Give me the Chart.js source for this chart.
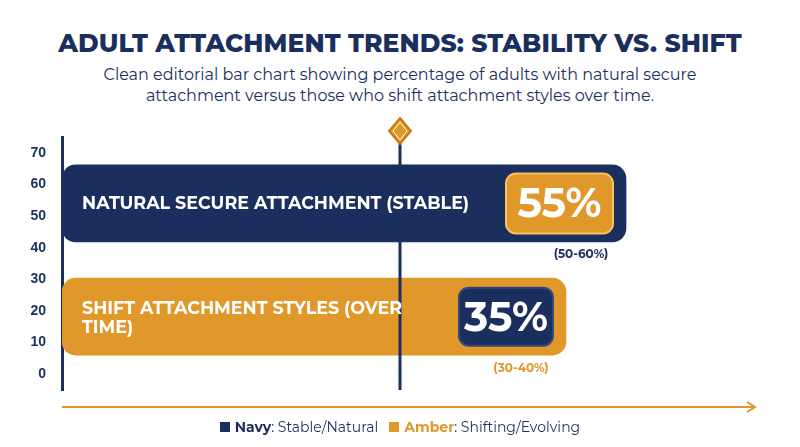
<!DOCTYPE html><html><head><meta charset="utf-8">
<script src="https://cdn.jsdelivr.net/npm/chart.js@4"></script>
<style>
body{margin:0;width:800px;height:447px;background:#fff;font-family:Montserrat,"Open Sans",sans-serif;position:relative;overflow:hidden}
#t{position:absolute;top:28px;width:100%;text-align:center;font-size:25px;font-weight:800;color:#1b2f5e;letter-spacing:0.1px}
#s{position:absolute;top:64px;width:100%;text-align:center;font-size:16px;color:#1b2f5e;line-height:21px}
#lg{position:absolute;top:418px;width:100%;text-align:center;font-size:14px;color:#1b2f5e}
.sw{display:inline-block;width:10px;height:10px;margin-right:5px;vertical-align:0}
canvas{position:absolute;left:0;top:0}
</style></head><body>
<div id="t">ADULT ATTACHMENT TRENDS: STABILITY VS. SHIFT</div>
<div id="s">Clean editorial bar chart showing percentage of adults with natural secure<br>attachment versus those who shift attachment styles over time.</div>
<div style="position:absolute;left:0;top:0;width:800px;height:447px"><canvas id="c"></canvas></div>
<div id="lg"><span class="sw" style="background:#1b2f5e"></span><b>Navy</b>: Stable/Natural &nbsp;&nbsp;<span class="sw" style="background:#e0982a"></span><b style="color:#e0982a">Amber</b>: Shifting/Evolving</div>
<script>
const categories=["NATURAL SECURE ATTACHMENT (STABLE)","SHIFT ATTACHMENT STYLES (OVER TIME)"];
const values=[55,35];
const ranges=["(50-60%)","(30-40%)"];
const yPositions=[54,18.2];
const yTicks=[0,10,20,30,40,50,60,70];
const NAVY="#1b2f5e",AMBER="#e0982a";
const deco={id:"deco",afterDatasetsDraw(ch){
 const c=ch.ctx,a=ch.chartArea,m=ch.getDatasetMeta(0);
 c.save();
 const cx=400;
 c.strokeStyle=NAVY;c.lineWidth=3;c.beginPath();c.moveTo(cx,a.top);c.lineTo(cx,a.bottom);c.stroke();
 c.fillStyle=AMBER;c.strokeStyle="#c77a10";c.lineWidth=2;
 c.beginPath();c.moveTo(cx,118);c.lineTo(cx+11,131);c.lineTo(cx,144);c.lineTo(cx-11,131);c.closePath();c.fill();c.stroke();
 c.strokeStyle="#fff";c.lineWidth=1;c.beginPath();c.moveTo(cx,122);c.lineTo(cx+7,131);c.lineTo(cx,140);c.lineTo(cx-7,131);c.closePath();c.stroke();
 const ay=a.bottom+17;
 c.strokeStyle=AMBER;c.lineWidth=2;c.beginPath();c.moveTo(a.left,ay);c.lineTo(a.right,ay);c.stroke();
 c.beginPath();c.moveTo(a.right-8,ay-5);c.lineTo(a.right,ay);c.lineTo(a.right-8,ay+5);c.stroke();
 m.data.forEach((b,i)=>{
  const bot=b.y+b.height/2;
  c.fillStyle="#fff";c.font="bold 17.5px Montserrat,'Open Sans',sans-serif";c.textBaseline="middle";c.textAlign="left";
  if(i==0){c.fillText(categories[0],82,b.y);}
  else{c.fillText("SHIFT ATTACHMENT STYLES (OVER",82,b.y-8);c.fillText("TIME)",82,b.y+11);}
  const bw=i==0?107:94,bh=i==0?60:58,bx=b.x-13-bw,by=b.y-bh/2;
  c.fillStyle=i==0?AMBER:NAVY;c.strokeStyle=i==0?"#f7c060":"#33477a";c.lineWidth=2;
  c.beginPath();c.roundRect(bx,by,bw,bh,10);c.fill();c.stroke();
  c.fillStyle="#fff";c.font="bold 41px Montserrat,'Open Sans',sans-serif";c.textAlign="center";
  c.fillText(values[i]+"%",bx+bw/2,b.y+2);
  c.fillStyle=i==0?NAVY:AMBER;c.font="bold 12px Montserrat,'Open Sans',sans-serif";
  c.fillText(ranges[i],b.x-45,bot+13);
 });
 c.restore();}};
new Chart(document.getElementById("c"),{type:"bar",
 data:{datasets:[{data:values.map((v,i)=>({x:v,y:yPositions[i]})),base:-133,backgroundColor:[NAVY,AMBER],borderRadius:14,borderSkipped:false,barThickness:77}]},
 options:{indexAxis:"y",responsive:true,maintainAspectRatio:false,animation:false,
  layout:{padding:{left:22,top:137,right:45,bottom:57}},
  plugins:{legend:{display:false},tooltip:{enabled:false}},
  scales:{
   x:{type:"linear",min:-133,max:98,display:false},
   y:{type:"linear",min:0,max:70,afterFit:s=>{s.width=40},
    afterBuildTicks:s=>{s.ticks=yTicks.map(v=>({value:v}))},
    grid:{display:false},border:{color:NAVY,width:3},
    ticks:{color:NAVY,font:{size:14,weight:"bold"},padding:8}}}},
 plugins:[deco]});
</script></body></html>
